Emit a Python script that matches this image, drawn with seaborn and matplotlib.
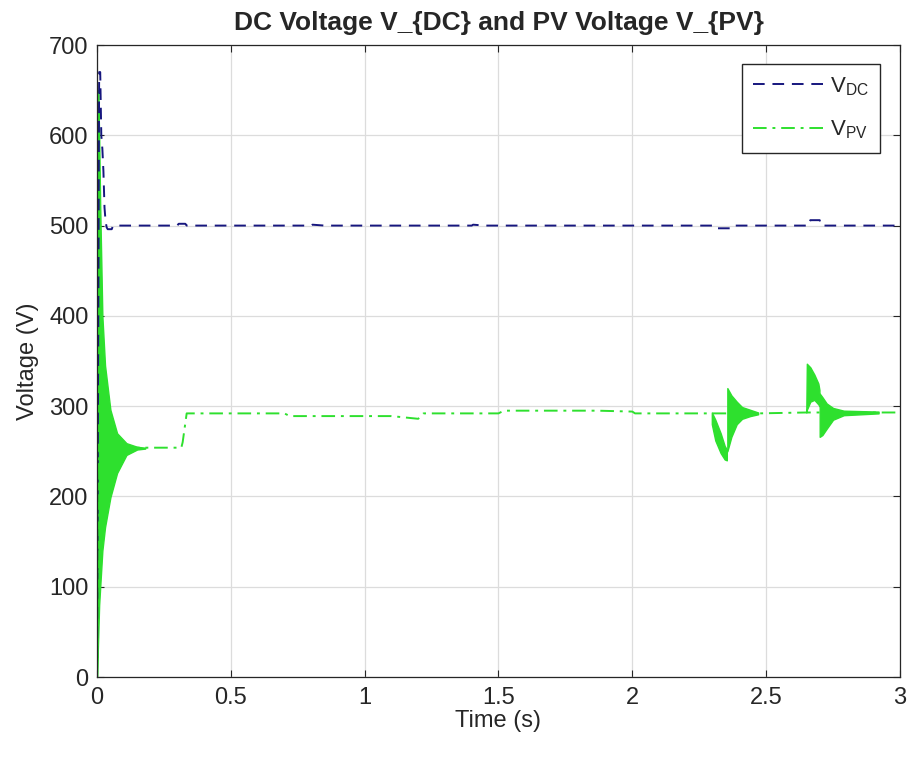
import numpy as np
import pandas as pd
import seaborn as sns
import matplotlib.pyplot as plt
from matplotlib.lines import Line2D

# DC link voltage (stepwise trace)
dc_time = [0.0, 0.008, 0.012, 0.016, 0.020, 0.024, 0.028, 0.032, 0.036, 0.040, 0.055, 0.060,
           0.30, 0.305, 0.33, 0.335, 0.80, 0.805, 0.85, 1.40, 1.405, 1.45, 2.31, 2.315, 2.365,
           2.37, 2.66, 2.665, 2.70, 2.705, 3.0]
dc_value = [0, 670, 670, 600, 585, 560, 520, 505, 498, 496, 496, 500,
            500, 502, 502, 500, 500, 501, 500, 500, 501, 500, 500, 497, 497,
            500, 500, 506, 506, 500, 500]

# PV voltage, mean trace
pv_time = [0.0, 0.004, 0.15, 0.315, 0.32, 0.335, 0.70, 0.72, 1.10, 1.20, 1.22, 1.50,
           1.52, 1.87, 2.00, 2.01, 2.29, 2.47, 2.65, 2.80, 3.0]
pv_value = [0, 250, 254, 254, 260, 292, 292, 289, 289, 286, 292, 292,
            295, 295, 294, 292, 292, 292, 293, 293, 293]

# PV oscillation envelopes (time, lower, upper)
start_time = [0.0, 0.004, 0.008, 0.012, 0.020, 0.030, 0.050, 0.075, 0.110, 0.150, 0.180]
start_low = [0, 40, 80, 100, 140, 166, 199, 226, 246, 252, 253]
start_high = [30, 650, 600, 520, 400, 345, 296, 270, 259, 255, 254]

dip_time = [2.297, 2.310, 2.330, 2.345, 2.353]
dip_low = [280, 262, 248, 241, 240]
dip_high = [293, 285, 270, 256, 252]

dip_ring_time = [2.355, 2.370, 2.390, 2.410, 2.440, 2.470]
dip_ring_low = [250, 266, 280, 286, 289, 291]
dip_ring_high = [320, 312, 305, 299, 296, 293]

bump_time = [2.650, 2.652, 2.665, 2.680, 2.695, 2.699]
bump_low = [293, 296, 305, 307, 302, 300]
bump_high = [294, 347, 343, 335, 325, 318]

bump_ring_time = [2.700, 2.710, 2.726, 2.750, 2.790, 2.920]
bump_ring_low = [266, 268, 275, 285, 290, 292]
bump_ring_high = [314, 310, 303, 298, 295, 294]

DC_COLOR = "#16167e"
PV_COLOR = "#2ee02e"
TEXT = "#262626"

sns.set_theme(style="ticks")
plt.rcParams["font.family"] = ["Liberation Sans", "DejaVu Sans"]
plt.rcParams["mathtext.fontset"] = "custom"
plt.rcParams["mathtext.rm"] = "Liberation Sans"

fig = plt.figure(figsize=(9.1, 7.59), dpi=100)
ax = fig.add_axes([0.1066, 0.108, 0.8824, 0.8327])

dc = pd.DataFrame({"t": dc_time, "v": dc_value})
pv = pd.DataFrame({"t": pv_time, "v": pv_value})

sns.lineplot(data=dc, x="t", y="v", ax=ax, color=DC_COLOR, lw=1.4,
             estimator=None, sort=False)
ax.lines[-1].set_dashes((6, 4))

sns.lineplot(data=pv, x="t", y="v", ax=ax, color=PV_COLOR, lw=1.4,
             estimator=None, sort=False)
ax.lines[-1].set_dashes((7, 3, 1.5, 3))

bands = [(start_time, start_low, start_high),
         (dip_time, dip_low, dip_high),
         (dip_ring_time, dip_ring_low, dip_ring_high),
         (bump_time, bump_low, bump_high),
         (bump_ring_time, bump_ring_low, bump_ring_high)]
for t, lo, hi in bands:
    ax.fill_between(t, lo, hi, color=PV_COLOR, lw=1.0, edgecolor=PV_COLOR)

ax.set_xlim(0, 3)
ax.set_ylim(0, 700)
ax.set_xticks(np.arange(0, 3.01, 0.5))
ax.set_xticklabels(["0", "0.5", "1", "1.5", "2", "2.5", "3"])
ax.set_yticks(np.arange(0, 701, 100))
ax.grid(True, color="#dcdcdc", lw=0.9)
ax.set_axisbelow(True)
ax.tick_params(direction="in", top=True, right=True, labelsize=17,
               colors=TEXT, length=5, width=0.8)
ax.tick_params(axis="x", pad=7)
ax.tick_params(axis="y", pad=6)
for s in ax.spines.values():
    s.set_color(TEXT)
    s.set_linewidth(0.9)

ax.set_xlabel("Time (s)", fontsize=17, color=TEXT, labelpad=1)
ax.set_ylabel("Voltage (V)", fontsize=17, color=TEXT, labelpad=7)
ax.set_title("DC Voltage V_{DC} and PV Voltage V_{PV}", fontsize=19,
             fontweight="bold", pad=11)

handles = [Line2D([], [], color=DC_COLOR, lw=1.4, dashes=(6, 4)),
           Line2D([], [], color=PV_COLOR, lw=1.4, dashes=(7, 3, 1.5, 3))]
leg = ax.legend(handles, [r"V$_{\rm DC}$", r"V$_{\rm PV}$"], loc="upper right",
                bbox_to_anchor=(880 / 910, 1 - 64 / 759), bbox_transform=fig.transFigure,
                fontsize=16, frameon=True, fancybox=False, framealpha=1,
                edgecolor=TEXT, handlelength=3.3, handletextpad=0.15,
                borderaxespad=0, borderpad=0.5, labelspacing=0.95)
leg.get_frame().set_linewidth(1.0)

fig.savefig("out.png", dpi=100)
plt.close(fig)
